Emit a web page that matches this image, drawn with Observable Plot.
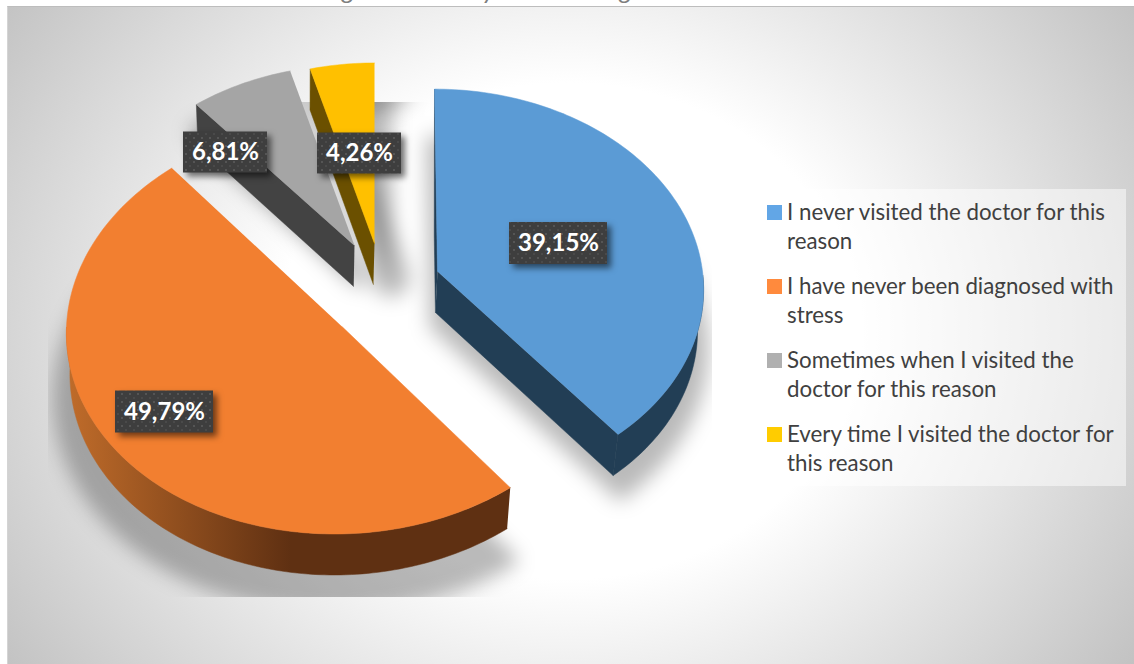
<!DOCTYPE html>
<html>
<head>
<meta charset="utf-8">
<script src="https://cdn.jsdelivr.net/npm/d3@7"></script>
<script src="https://cdn.jsdelivr.net/npm/@observablehq/plot@0.6"></script>
<style>
  html, body { margin: 0; padding: 0; background: #fff; overflow: hidden; }
  #page { position: relative; width: 1134px; height: 664px; overflow: hidden; font-family: Lato, "Open Sans", sans-serif; }
  #panel {
    position: absolute; left: 7px; top: 6px; right: 0; bottom: 0;
    border-top: 1px solid #bdbdbd; border-left: 1px solid #d4d4d4;
    background: radial-gradient(ellipse 720px 620px at 560px 324px, #fff 0%, #fff 40%, #bfbfbf 98%);
  }
  #title {
    position: absolute; left: 0; width: 1150px; top: -27px; text-align: center;
    font: italic 26px Lato, sans-serif; color: #7f7f7f; white-space: nowrap;
  }
  #chart { position: absolute; left: 0; top: 0; }
  #legend {
    position: absolute; left: 755px; top: 189px; width: 371px; height: 297px;
    background: rgba(255,255,255,0.5);
  }
  .entry { position: absolute; left: 32px; width: 335px; font-size: 22.3px; line-height: 29px; color: #404040; }
  .swatch { position: absolute; left: -20px; top: 8px; width: 15px; height: 15px; }
</style>
</head>
<body>
<div id="page">
  <div id="panel"></div>
  <div id="title">Figure 6. Have you been diagnosed with stress?</div>
  <div id="chart"></div>
  <div id="legend"></div>
</div>
<script>
// Survey answers, in the order they run clockwise from twelve o'clock.
const answers = [
  "I never visited the doctor for this reason",
  "I have never been diagnosed with stress",
  "Sometimes when I visited the doctor for this reason",
  "Every time I visited the doctor for this reason"
];
const shares = [39.15, 49.79, 6.81, 4.26];
const shareLabels = ["39,15%", "49,79%", "6,81%", "4,26%"];
const topColors = ["#5b9bd5", "#f27f30", "#a5a5a5", "#ffc000"];
const swatchColors = ["#62a6e6", "#ff8a3d", "#b0b0b0", "#ffcc00"];
const sideColors = ["#223e55", "url(#orangeSide)", "#434343", "#6b5000"];
const legendLines = [
  ["I never visited the doctor for this", "reason"],
  ["I have never been diagnosed with", "stress"],
  ["Sometimes when I visited the", "doctor for this reason"],
  ["Every time I visited the doctor for", "this reason"]
];

// Where each exploded slice has its apex on the tilted disc.
const apexes = [[437, 271], [342, 326.5], [354, 245], [374, 243]];
// Centre of each value label, relative to the apex of its slice.
const labelOffsets = [[121, -28], [-178, 85], [-129, -93], [-15, -90]];
const labelHeights = [42, 42, 41, 41];
const labelWidths = [98, 98, 84, 84];

// Tilted-disc camera per slice: radii, perspective and a small shear.
const cameras = [
  {rx: 265, ry: 197, k: 0.08, shear: -3},
  {rx: 276, ry: 207, k: 0, shear: 8},
  {rx: 262, ry: 195, k: 0.08, shear: 0},
  {rx: 262, ry: 195, k: 0.08, shear: 0}
];
// Shift of each slice's cast shadow away from its lower face.
const shadowShifts = [[-4, 16], [0, 24], [6, -6], [18, -6]];
const shadowStrokes = [2, 4, 14, 36];
const depth = 41, vanishX = 300, taper = 0.015;

function project(i, theta, r, lower) {
  const c = cameras[i], a = apexes[i];
  const u = r * Math.sin(theta), v = r * Math.cos(theta);
  const s = 1 / (1 + c.k * v);
  let x = a[0] + u * c.rx * s + c.shear * v;
  let y = a[1] - v * c.ry * s;
  if (lower) {
    x -= (x - vanishX) * taper;
    y += depth;
  }
  return [x, y];
}

const arcs = d3.pie().sort(null).value(d => d)(shares);

function arcPoints(i, from, to, r, lower) {
  const steps = Math.max(2, Math.ceil((to - from) / 0.02));
  return d3.range(steps + 1).map(k => project(i, from + (to - from) * k / steps, r, lower));
}

const shapes = {top: [], side: [], shadow: []};
function addPolygon(bucket, id, pts, i) {
  pts.forEach(p => bucket.push({id, x: p[0], y: p[1], top: topColors[i], side: sideColors[i], sw: shadowStrokes[i]}));
}

arcs.forEach((a, i) => {
  const t0 = a.startAngle, t1 = a.endAngle, ap = apexes[i];
  const lowerApex = project(i, 0, 0, true);
  addPolygon(shapes.top, `top${i}`, [ap, ...arcPoints(i, t0, t1, 1, false)], i);

  // Cast shadow: the lower face, a little wider and shifted on the ground.
  const [sx, sy] = shadowShifts[i];
  addPolygon(shapes.shadow, `shadow${i}`,
    [lowerApex, ...arcPoints(i, t0, t1, 1.05, true)].map(p => [p[0] + sx, p[1] + sy]), i);

  if (i === 0) {
    // Cut face along the trailing edge, then the rim round to the widest point.
    const rimStart = Math.PI / 2 + 0.02;
    addPolygon(shapes.side, "side0a", [ap, project(i, t1, 1, false), project(i, t1, 1, true), lowerApex], i);
    addPolygon(shapes.side, "side0b", [...arcPoints(i, rimStart, t1, 1, false), ...arcPoints(i, rimStart, t1, 1, true).reverse()], i);
    addPolygon(shapes.side, "side0c", [ap, project(i, t0, 1, false), project(i, t0, 0.4, true), lowerApex], i);
  } else if (i === 1) {
    // Only the lower rim of the half disc faces the viewer.
    const rimEnd = 3 * Math.PI / 2;
    addPolygon(shapes.side, "side1", [...arcPoints(i, t0, rimEnd, 1, false), ...arcPoints(i, t0, rimEnd, 1, true).reverse()], i);
  } else {
    // The two small wedges show their left cut face.
    addPolygon(shapes.side, `side${i}`, [ap, project(i, t0, 1, false), project(i, t0, 1, true), lowerApex], i);
  }
});

const labels = shares.map((v, i) => {
  const cx = apexes[i][0] + labelOffsets[i][0], cy = apexes[i][1] + labelOffsets[i][1];
  return {
    text: shareLabels[i], cx, cy,
    x1: cx - labelWidths[i] / 2, x2: cx + labelWidths[i] / 2,
    y1: cy - labelHeights[i] / 2, y2: cy + labelHeights[i] / 2
  };
});

// Gradient and pattern definitions shared by the marks.
function defs() {
  const d = d3.create("svg:defs");
  const g = d.append("linearGradient").attr("id", "orangeSide")
    .attr("gradientUnits", "userSpaceOnUse")
    .attr("x1", 66).attr("x2", 290).attr("y1", 0).attr("y2", 0);
  g.append("stop").attr("offset", 0).attr("stop-color", "#c06c2a");
  g.append("stop").attr("offset", 1).attr("stop-color", "#5f3012");
  const p = d.append("pattern").attr("id", "labelDots")
    .attr("patternUnits", "userSpaceOnUse").attr("width", 8).attr("height", 8);
  p.append("rect").attr("width", 8).attr("height", 8).attr("fill", "#3e3e3e");
  p.append("rect").attr("x", 1).attr("y", 1).attr("width", 2).attr("height", 2).attr("fill", "#555");
  p.append("rect").attr("x", 5).attr("y", 5).attr("width", 2).attr("height", 2).attr("fill", "#4a4a4a");
  const c = d.append("clipPath").attr("id", "shadowArea");
  c.append("rect").attr("x", 48).attr("y", 102).attr("width", 664).attr("height", 495);
  return d.node();
}

// The soft shadow is cut off by a hard rectangle, so wrap its group in a clip.
function clipToShadowArea(index, scales, values, dims, context, next) {
  const node = next(index, scales, values, dims, context);
  const wrap = d3.create("svg:g").attr("clip-path", "url(#shadowArea)");
  wrap.node().appendChild(node);
  return wrap.node();
}

const plot = Plot.plot({
  width: 1134,
  height: 664,
  margin: 0,
  style: {background: "transparent", overflow: "visible"},
  x: {domain: [0, 1134], range: [0, 1134], axis: null},
  y: {domain: [0, 664], range: [0, 664], axis: null},
  marks: [
    defs,
    Plot.line(shapes.shadow, {x: "x", y: "y", z: "id", fill: "#000", fillOpacity: 0.27, stroke: "#000", strokeOpacity: 0.27, strokeWidth: "sw", curve: "linear", imageFilter: "blur(10px)", render: clipToShadowArea}),
    Plot.line(shapes.side, {x: "x", y: "y", z: "id", fill: "side", stroke: "side", strokeWidth: 0.5, curve: "linear"}),
    Plot.line(shapes.top, {x: "x", y: "y", z: "id", fill: "top", stroke: "top", strokeWidth: 0.5, curve: "linear"}),
    Plot.rect(labels, {x1: "x1", x2: "x2", y1: "y1", y2: "y2", fill: "url(#labelDots)", imageFilter: "drop-shadow(4px 4px 3px rgba(0,0,0,0.55))"}),
    Plot.text(labels, {x: "cx", y: "cy", text: "text", fill: "#fff", fontSize: 24, fontWeight: 700, fontFamily: "Lato, sans-serif"})
  ]
});
document.getElementById("chart").appendChild(plot);

const legend = document.getElementById("legend");
legendLines.forEach((lines, i) => {
  const e = document.createElement("div");
  e.className = "entry";
  e.style.top = `${8 + i * 74}px`;
  const s = document.createElement("span");
  s.className = "swatch";
  s.style.background = swatchColors[i];
  e.appendChild(s);
  lines.forEach(t => {
    const l = document.createElement("div");
    l.textContent = t;
    l.style.whiteSpace = "nowrap";
    e.appendChild(l);
  });
  legend.appendChild(e);
});
</script>
</body>
</html>
